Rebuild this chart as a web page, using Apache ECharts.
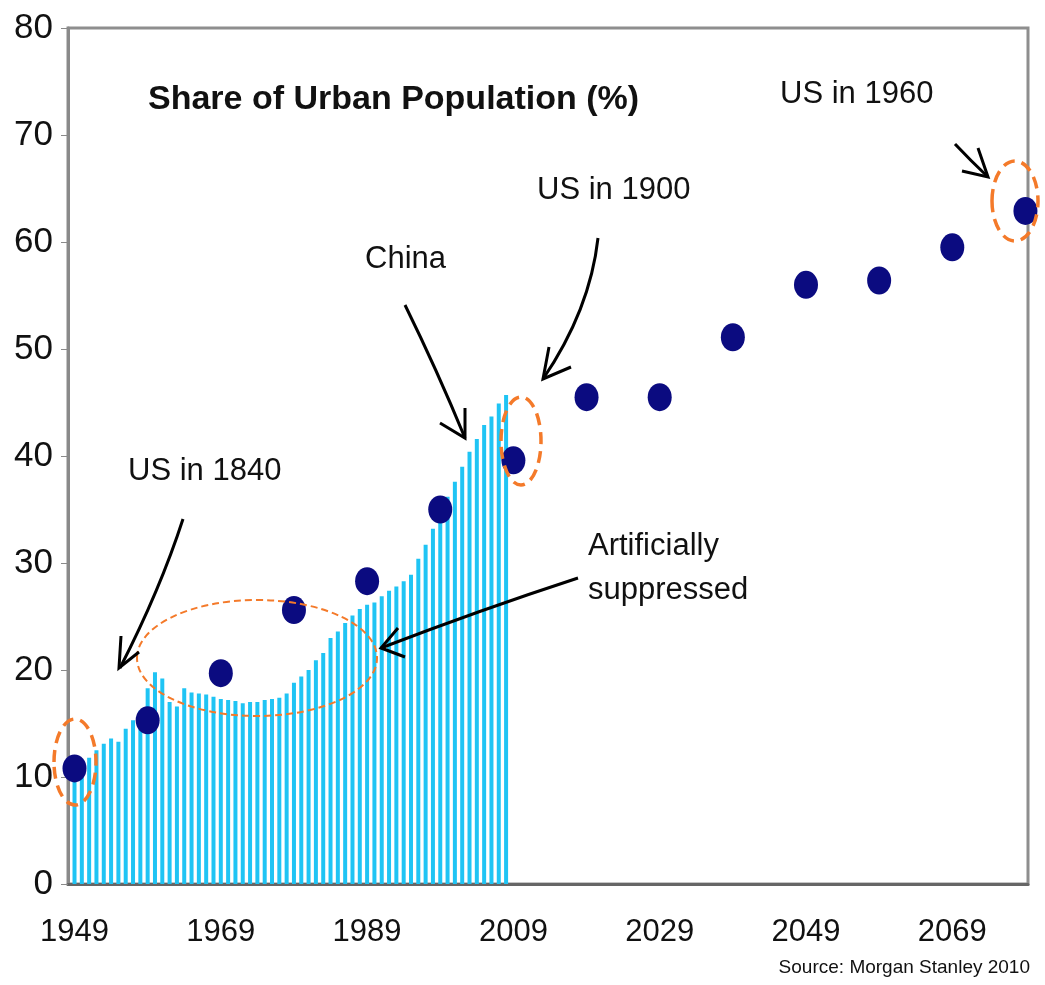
<!DOCTYPE html>
<html>
<head>
<meta charset="utf-8">
<script src="https://cdn.jsdelivr.net/npm/echarts@6/dist/echarts.min.js"></script>
<style>
  html, body { margin: 0; padding: 0; background: #ffffff; }
  #chart { width: 1045px; height: 985px; }
</style>
</head>
<body>
<div id="chart"></div>
<script>
// China urban share, annual bars 1949-2008
const chinaYears = [];
for (let y = 1949; y <= 2008; y++) chinaYears.push(y);
const chinaShare = [
  10.6, 11.2, 11.8, 12.5, 13.1, 13.6, 13.3, 14.5, 15.3, 16.2,
  18.3, 19.8, 19.2, 17.0, 16.6, 18.3, 17.9, 17.8, 17.7, 17.5,
  17.3, 17.2, 17.1, 16.9, 17.0, 17.0, 17.2, 17.3, 17.4, 17.8,
  18.8, 19.4, 20.0, 20.9, 21.6, 23.0, 23.6, 24.4, 25.1, 25.7,
  26.1, 26.3, 26.9, 27.4, 27.8, 28.3, 28.9, 30.4, 31.7, 33.2,
  34.7, 36.2, 37.6, 39.0, 40.4, 41.6, 42.9, 43.7, 44.9, 45.7
];
// US comparison dots every decade
const usYears = [1949, 1959, 1969, 1979, 1989, 1999, 2009, 2019, 2029, 2039, 2049, 2059, 2069, 2079];
const usShare = [10.8, 15.3, 19.7, 25.6, 28.3, 35.0, 39.6, 45.5, 45.5, 51.1, 56.0, 56.4, 59.5, 62.9];
// Axis tick labels
const xTickYears = [1949, 1969, 1989, 2009, 2029, 2049, 2069];
const yTicks = [0, 10, 20, 30, 40, 50, 60, 70, 80];

const titleText = 'Share of Urban Population (%)';
const sourceText = 'Source: Morgan Stanley 2010';

const FONT = '"Liberation Sans", Arial, sans-serif';

const chart = echarts.init(document.getElementById('chart'), null, { renderer: 'canvas' });

const barData = chinaYears.map((y, i) => [y, chinaShare[i]]);
const dotData = usYears.map((y, i) => [y, usShare[i]]);

const orange = '#f47a2a';
const ink = '#111111';

function txt(x, y, s, size, opts) {
  return Object.assign({
    type: 'text', x: x, y: y, z: 100,
    style: {
      text: s, fontSize: size, fontFamily: FONT, fill: ink,
      align: 'left', verticalAlign: 'middle'
    }
  }, opts || {});
}
function curve(x1, y1, cx, cy, x2, y2) {
  return { type: 'bezierCurve', z: 100,
    shape: { x1: x1, y1: y1, cpx1: cx, cpy1: cy, x2: x2, y2: y2 },
    style: { stroke: '#000', lineWidth: 3, fill: null } };
}
function head(pts) {
  return { type: 'polyline', z: 100, shape: { points: pts },
    style: { stroke: '#000', lineWidth: 3, fill: null, lineJoin: 'miter' } };
}
function ell(cx, cy, rx, ry, lw, dash) {
  return { type: 'ellipse', z: 90, shape: { cx: cx, cy: cy, rx: rx, ry: ry },
    style: { fill: null, stroke: orange, lineWidth: lw, lineDash: dash } };
}

const option = {
  backgroundColor: '#ffffff',
  animation: false,
  grid: {
    left: 68, right: 17, top: 28, bottom: 101,
    show: true, borderColor: '#8e8e8e', borderWidth: 3, backgroundColor: 'transparent'
  },
  xAxis: {
    type: 'value',
    min: 1948.11, max: 2079.35,
    splitLine: { show: false },
    axisLine: { show: true, onZero: false, lineStyle: { color: '#666666', width: 3 } },
    axisTick: { show: false },
    axisLabel: {
      customValues: xTickYears,
      formatter: v => String(Math.round(v)),
      fontSize: 31, fontFamily: FONT, color: ink, margin: 33,
      showMinLabel: true, showMaxLabel: true
    }
  },
  yAxis: {
    type: 'value', min: 0, max: 80, interval: 10,
    splitLine: { show: false },
    axisLine: { show: true, lineStyle: { color: '#8a8a8a', width: 3 } },
    axisTick: { show: true, length: 7, lineStyle: { color: '#8a8a8a', width: 1 } },
    axisLabel: {
      formatter: v => (yTicks.indexOf(v) >= 0 ? String(v) : ''),
      fontSize: 35, fontFamily: FONT, color: ink, margin: 15
    }
  },
  series: [
    {
      type: 'bar', name: 'China', data: barData, barWidth: 4,
      itemStyle: { color: '#1fc4f4', opacity: 1 }, z: 2
    },
    {
      type: 'scatter', name: 'US', data: dotData, symbol: 'circle', symbolSize: [24, 28],
      itemStyle: { color: '#0b0b80', opacity: 1 }, z: 5
    }
  ],
  graphic: [
    txt(148, 100, titleText, 34, { style: { text: titleText, fontSize: 34, fontWeight: 'bold', fontFamily: FONT, fill: ink, align: 'left', verticalAlign: 'middle' } }),
    txt(780, 94, 'US in 1960', 31),
    txt(537, 190, 'US in 1900', 31),
    txt(365, 259, 'China', 31),
    txt(128, 471, 'US in 1840', 31),
    txt(588, 546, 'Artificially', 31),
    txt(588, 590, 'suppressed', 31),
    { type: 'text', x: 1030, y: 968, z: 100,
      style: { text: sourceText, fontSize: 19, fontFamily: FONT, fill: ink, align: 'right', verticalAlign: 'middle' } },
    // arrows
    curve(183, 519, 160, 590, 120, 668),
    head([[121, 636], [119, 668], [139, 652]]),
    curve(405, 305, 437, 370, 465, 438),
    head([[465, 408], [465, 438], [440, 423]]),
    curve(598, 238, 590, 310, 543, 379),
    head([[549, 347], [543, 379], [571, 367]]),
    curve(578, 578, 480, 610, 381, 648),
    head([[398, 628], [381, 648], [405, 657]]),
    curve(955, 144, 970, 160, 988, 177),
    head([[978, 148], [988, 177], [962, 171]]),
    // dashed ellipses
    ell(75, 762, 21, 43, 3.5, [12, 7]),
    ell(257, 658, 120, 58, 2, [7, 4]),
    ell(521, 441, 20, 44, 3.5, [12, 7]),
    ell(1015, 201, 23, 40, 3.5, [12, 7])
  ]
};

chart.setOption(option);
</script>
</body>
</html>
